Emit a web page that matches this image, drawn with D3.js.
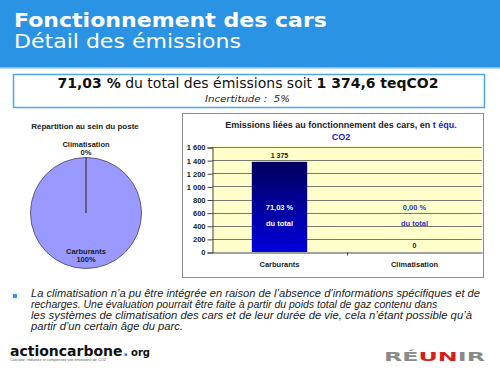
<!DOCTYPE html>
<html><head><meta charset="utf-8">
<script src="https://cdn.jsdelivr.net/npm/d3@7/dist/d3.min.js"></script>
<style>html,body{margin:0;padding:0;background:#fff;}svg{display:block;}</style>
</head><body>
<svg id="c" width="500" height="374"></svg>
<script>
// ---------- data ----------
const titleMain = "Fonctionnement des cars";
const titleSub = "Détail des émissions";
const sharePct = "71,03 %";
const shareTotal = "1 374,6 teqCO2";
const uncertainty = "Incertitude :  5%";
const pieTitle = "Répartition au sein du poste";
const pieCategories = ["Carburants", "Climatisation"];
const pieValues = [100, 0];
const pieLabels = ["100%", "0%"];
const barTitle1 = "Emissions liées au fonctionnement des cars, en ";
const barTitleUnit1 = "t équ.";
const barTitleUnit2 = "CO2";
const barCategories = ["Carburants", "Climatisation"];
const barValues = [1374.6, 0];
const barShares = ["71,03 %", "0,00 %"];
const yTicks = [0, 200, 400, 600, 800, 1000, 1200, 1400, 1600];
const noteLines = [
  "La climatisation n’a pu être intégrée en raison de l’absence d’informations spécifiques et de",
  "recharges. Une évaluation pourrait être faite à partir du poids total de gaz contenu dans",
  "les systèmes de climatisation des cars et de leur durée de vie, cela n’étant possible qu’à",
  "partir d’un certain âge du parc."
];

// ---------- helpers ----------
const svg = d3.select("#c");
const fr = d3.formatLocale({decimal: ",", thousands: " ", grouping: [3], currency: ["", ""]});
const fmt = fr.format(",.0f");
function fit(sel, w) {
  const L = sel.node().getComputedTextLength();
  if (Math.abs(L - w) / w > 0.015) sel.attr("textLength", w).attr("lengthAdjust", "spacingAndGlyphs");
  return sel;
}

// ---------- header ----------
svg.append("rect").attr("x", 0).attr("y", 0).attr("width", 500).attr("height", 68).attr("fill", "#2b93e3");
svg.append("rect").attr("x", 0).attr("y", 67).attr("width", 500).attr("height", 1.5).attr("fill", "#7fbcf0");
fit(svg.append("text").attr("x", 14).attr("y", 26.5).attr("fill", "#fff")
  .attr("font-family", "DejaVu Sans").attr("font-weight", "bold").attr("font-size", 19.5).text(titleMain), 313);
fit(svg.append("text").attr("x", 14).attr("y", 48).attr("fill", "#fff")
  .attr("font-family", "DejaVu Sans").attr("font-size", 19).text(titleSub), 227);

// ---------- summary box ----------
svg.append("rect").attr("x", 13.5).attr("y", 74.5).attr("width", 471).attr("height", 33)
  .attr("fill", "#fff").attr("stroke", "#4ea6ec").attr("stroke-width", 1.5);
const st = svg.append("text").attr("x", 248).attr("y", 88).attr("text-anchor", "middle")
  .attr("font-family", "DejaVu Sans").attr("font-size", 14).attr("fill", "#111");
st.append("tspan").attr("font-weight", "bold").text(sharePct);
st.append("tspan").text(" du total des émissions soit ");
st.append("tspan").attr("font-weight", "bold").text(shareTotal);
fit(st, 386);
fit(svg.append("text").attr("x", 247.5).attr("y", 101.5).attr("text-anchor", "middle")
  .attr("font-family", "DejaVu Sans").attr("font-style", "italic").attr("font-size", 8.5)
  .attr("fill", "#222").attr("xml:space", "preserve").style("white-space", "pre").text(uncertainty), 85);

// ---------- pie ----------
const pcx = 86, pcy = 213, pr = 55.5;
fit(svg.append("text").attr("x", 85).attr("y", 128.5).attr("text-anchor", "middle")
  .attr("font-family", "Liberation Sans").attr("font-weight", "bold").attr("font-size", 8)
  .attr("fill", "#222").text(pieTitle), 108);
const pieData = d3.pie().sort(null).value(d => d)(pieValues);
const arc = d3.arc().innerRadius(0).outerRadius(pr);
const pg = svg.append("g").attr("transform", `translate(${pcx},${pcy})`);
pg.selectAll("path.s").data(pieData).join("path").attr("class", "s")
  .attr("d", arc).attr("fill", "#9999ff").attr("stroke", "#5c5c7a").attr("stroke-width", 1);
// slice boundaries
pg.selectAll("line.b").data(pieData).join("line").attr("class", "b")
  .attr("x1", 0).attr("y1", 0)
  .attr("x2", d => pr * Math.sin(d.startAngle)).attr("y2", d => -pr * Math.cos(d.startAngle))
  .attr("stroke", "#5c5c7a").attr("stroke-width", 1.2);
// labels
const labelArcIn = d3.arc().innerRadius(pr * 0.76).outerRadius(pr * 0.76);
const labelArcOut = d3.arc().innerRadius(pr + 6).outerRadius(pr + 6);
pieData.forEach((d, i) => {
  const inside = d.endAngle - d.startAngle > 0.3;
  const c = inside ? labelArcIn.centroid(d) : labelArcOut.centroid(d);
  const dy = inside ? 0 : -4;
  const t = pg.append("text").attr("text-anchor", "middle")
    .attr("font-family", "Liberation Sans").attr("font-weight", "bold").attr("font-size", 7.5).attr("fill", "#222");
  t.append("tspan").attr("x", c[0]).attr("y", c[1] + dy - 1).text(pieCategories[i]);
  t.append("tspan").attr("x", c[0]).attr("y", c[1] + dy + 7).text(pieLabels[i]);
});

// ---------- bar chart ----------
svg.append("rect").attr("x", 182.5).attr("y", 113.5).attr("width", 301).attr("height", 164)
  .attr("fill", "#fff").attr("stroke", "#8c8c8c").attr("stroke-width", 1);
const pL = 212, pR = 482, pT = 147, pB = 252;
const x = d3.scaleBand().domain(barCategories).range([pL, pR]).padding(0);
const y = d3.scaleLinear().domain([0, 1600]).range([pB, pT]);
const bw = x.bandwidth() * 0.41;

const bt = svg.append("text").attr("x", 341).attr("y", 128).attr("text-anchor", "middle")
  .attr("font-family", "Liberation Sans").attr("font-weight", "bold").attr("font-size", 9).attr("fill", "#222");
bt.append("tspan").text(barTitle1);
bt.append("tspan").attr("fill", "#2222cc").text(barTitleUnit1);
fit(bt, 232);
svg.append("text").attr("x", 341).attr("y", 140).attr("text-anchor", "middle")
  .attr("font-family", "Liberation Sans").attr("font-weight", "bold").attr("font-size", 9)
  .attr("fill", "#2222cc").text(barTitleUnit2);

svg.append("rect").attr("x", pL).attr("y", pT - 1).attr("width", pR - pL).attr("height", pB - pT + 1)
  .attr("fill", "#ffffcc");
svg.append("g").selectAll("line").data(yTicks.filter(v => v > 0)).join("line")
  .attr("x1", pL).attr("x2", pR).attr("y1", d => Math.round(y(d)) + 0.5).attr("y2", d => Math.round(y(d)) + 0.5)
  .attr("stroke", "#7a7a6a").attr("stroke-width", 1);

const defs = svg.append("defs");
const grad = defs.append("linearGradient").attr("id", "bg").attr("x1", 0).attr("y1", 0).attr("x2", 0).attr("y2", 1);
grad.append("stop").attr("offset", "0%").attr("stop-color", "#00005e");
grad.append("stop").attr("offset", "100%").attr("stop-color", "#0000dc");

svg.append("g").selectAll("rect").data(barValues).join("rect")
  .attr("x", (d, i) => x(barCategories[i]) + (x.bandwidth() - bw) / 2)
  .attr("y", d => y(d)).attr("width", bw).attr("height", d => pB - y(d))
  .attr("fill", "url(#bg)");

// y axis
const ya = svg.append("g").attr("transform", `translate(${pL + 0.5},0.5)`)
  .call(d3.axisLeft(y).tickValues(yTicks).tickSize(5).tickPadding(2).tickFormat(fmt));
ya.select(".domain").attr("stroke", "#444");
ya.selectAll(".tick line").attr("stroke", "#444");
ya.selectAll("text").attr("font-family", "Liberation Sans").attr("font-weight", "bold")
  .attr("font-size", 7.5).attr("fill", "#222");

// x axis
const xa = svg.append("g").attr("transform", `translate(0,${pB + 0.5})`)
  .call(d3.axisBottom(x).tickSize(0).tickPadding(9));
xa.select(".domain").attr("stroke", "#444");
xa.selectAll("text").attr("font-family", "Liberation Sans").attr("font-weight", "bold")
  .attr("font-size", 7.5).attr("fill", "#222");
xa.selectAll("line.bt").data(barCategories.slice(1)).join("line").attr("class", "bt")
  .attr("x1", d => x(d) + 0.5).attr("x2", d => x(d) + 0.5).attr("y1", 0).attr("y2", 3).attr("stroke", "#444");

// value labels
svg.append("g").selectAll("text").data(barValues).join("text")
  .attr("x", (d, i) => x(barCategories[i]) + x.bandwidth() / 2)
  .attr("y", d => y(d) - 4).attr("text-anchor", "middle")
  .attr("font-family", "Liberation Sans").attr("font-weight", "bold").attr("font-size", 7)
  .attr("fill", "#222").text(d => fmt(d));
// share labels
barShares.forEach((s, i) => {
  const cx = x(barCategories[i]) + x.bandwidth() / 2;
  const col = barValues[i] > 600 ? "#ffffff" : "#3333cc";
  svg.append("text").attr("x", cx).attr("y", 210).attr("text-anchor", "middle")
    .attr("font-family", "Liberation Sans").attr("font-weight", "bold").attr("font-size", 7.5)
    .attr("fill", col).text(s);
  svg.append("text").attr("x", cx).attr("y", 226).attr("text-anchor", "middle")
    .attr("font-family", "Liberation Sans").attr("font-weight", "bold").attr("font-size", 7.5)
    .attr("fill", col).text("du total");
});

// ---------- note ----------
svg.append("rect").attr("x", 13).attr("y", 294).attr("width", 4).attr("height", 4).attr("fill", "#3399ee");
const noteW = [449, 409, 441, 152];
noteLines.forEach((l, i) => {
  fit(svg.append("text").attr("x", 31).attr("y", 297 + i * 11)
    .attr("font-family", "Liberation Sans").attr("font-style", "italic").attr("font-size", 10.5)
    .attr("fill", "#222").text(l), noteW[i]);
});

// ---------- logos (as text) ----------
fit(svg.append("text").attr("x", 10).attr("y", 356).attr("font-family", "DejaVu Sans")
  .attr("font-weight", "bold").attr("font-size", 14).attr("fill", "#111").text("actioncarbone"), 114);
svg.append("text").attr("x", 123).attr("y", 356).attr("font-family", "DejaVu Sans")
  .attr("font-weight", "bold").attr("font-size", 14).attr("fill", "#1e90ff").text(".");
fit(svg.append("text").attr("x", 131).attr("y", 356).attr("font-family", "DejaVu Sans")
  .attr("font-weight", "bold").attr("font-size", 11).attr("fill", "#111").text("org"), 19);
fit(svg.append("text").attr("x", 10).attr("y", 361).attr("font-family", "Liberation Sans")
  .attr("font-size", 3.5).attr("fill", "#555").text("Calculez, réduisez et compensez vos émissions de CO2"), 96);
const rt = svg.append("text").attr("x", 384).attr("y", 361).attr("font-family", "DejaVu Sans")
  .attr("font-weight", "bold").attr("font-size", 13).attr("fill", "#8a8a8a");
rt.append("tspan").text("RÉ");
rt.append("tspan").attr("fill", "#d62020").text("UN");
rt.append("tspan").text("IR");
fit(rt, 101);
</script>
</body></html>
